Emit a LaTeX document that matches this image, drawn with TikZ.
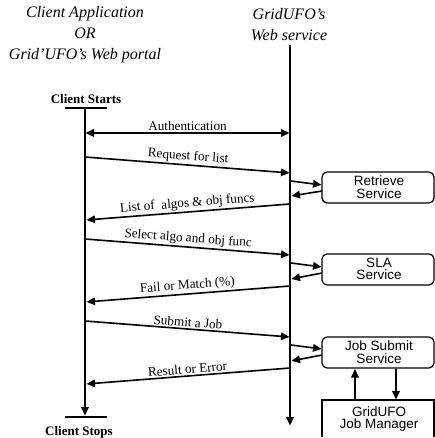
\documentclass[tikz,border=0pt]{standalone}
\usepackage{fontspec}
\setmainfont{Liberation Serif}
\newfontfamily\boxfont{Liberation Sans}
\usetikzlibrary{calc}
\newcommand\myarrow[3][msg]{%
  \draw[#1, shorten >=7pt] (#2) -- (#3);
  \coordinate (tipbase) at ($(#3)!9pt!(#2)$);
  \fill ($(#3)!0.6pt!(#2)$) -- ($(tipbase)!4pt!90:(#3)$) -- ($(tipbase)!4pt!-90:(#3)$) -- cycle;}
\begin{document}
\begin{tikzpicture}[x=1pt,y=1pt,
  msg/.style={line width=1.6pt},
  life/.style={line width=1.8pt},
  lbl/.style={font=\fontsize{13.2}{14}\selectfont, midway, above, sloped, inner sep=2pt},
  title/.style={font=\fontsize{16}{21}\selectfont\itshape, align=center},
  svctext/.style={font=\boxfont\fontsize{13.5}{12.5}\selectfont, align=center, inner sep=0pt},
  boxline/.style={line width=1.2pt, rounded corners=5pt}]
\useasboundingbox (0,0) rectangle (435,-438);
% titles
\node[title] (tc) at (85,-35) {Client Application\\OR\\Grid'UFO's Web portal};
\node[title] (ts) at (289,-25) {GridUFO's\\Web service};
% client lifeline
\node[font=\fontsize{13}{13}\selectfont\bfseries] (cs) at (86,-99) {Client Starts};
\node[font=\fontsize{13}{13}\selectfont\bfseries] (ce) at (79,-432) {Client Stops};
\coordinate (ct) at (85,-108);
\coordinate (cb) at (85,-416);
\draw[line width=1.6pt] (65,-108) -- (107,-108);
\draw[line width=1.6pt] (65,-417) -- (107,-417);
\myarrow[life]{ct}{cb}
% server lifeline
\coordinate (st) at (290,-45);
\coordinate (sb) at (290,-426);
\myarrow[life]{st}{sb}
% service boxes
\draw[boxline] (322,-172) rectangle (434,-203);
\node[svctext] (ret) at (379,-187) {Retrieve\\Service};
\draw[boxline] (322,-254) rectangle (434,-285);
\node[svctext] (sla) at (379,-269) {SLA\\Service};
\draw[boxline] (322,-337) rectangle (434,-368);
\node[svctext] (job) at (379,-352) {Job Submit\\Service};
\draw[line width=1.2pt] (322,-437) -- (322,-400) -- (434,-400) -- (434,-437);
\node[svctext] (jm) at (379,-419) {GridUFO\\Job Manager};
% authentication
\coordinate (a1) at (85,-133); \coordinate (a2) at (290,-133);
\coordinate (am) at (187,-133);
\path (a1) -- node[lbl]{Authentication} (a2);
\myarrow{am}{a1}
\myarrow{am}{a2}
% request for list
\coordinate (r1) at (85,-157); \coordinate (r2) at (290,-173);
\path (r1) -- node[lbl]{Request for list} (r2);
\myarrow{r1}{r2}
\coordinate (r3) at (291,-181); \coordinate (r4) at (291,-196);
\coordinate (r5) at (322,-185); \coordinate (r6) at (322,-191);
\myarrow{r3}{r5}
\myarrow{r6}{r4}
\coordinate (l1) at (290,-204); \coordinate (l2) at (86,-220);
\path (l1) -- node[lbl]{List of~ algos \& obj funcs} (l2);
\myarrow{l1}{l2}
% SLA
\coordinate (s1) at (85,-239); \coordinate (s2) at (290,-255);
\path (s1) -- node[lbl]{Select algo and obj func} (s2);
\myarrow{s1}{s2}
\coordinate (s3) at (291,-263); \coordinate (s4) at (291,-279);
\coordinate (s5) at (322,-267); \coordinate (s6) at (322,-273);
\myarrow{s3}{s5}
\myarrow{s6}{s4}
\coordinate (f1) at (290,-286); \coordinate (f2) at (86,-302);
\path (f1) -- node[lbl]{Fail or Match (\%)} (f2);
\myarrow{f1}{f2}
% Job
\coordinate (j1) at (85,-321); \coordinate (j2) at (290,-337);
\path (j1) -- node[lbl]{Submit a Job} (j2);
\myarrow{j1}{j2}
\coordinate (j3) at (291,-345); \coordinate (j4) at (291,-361);
\coordinate (j5) at (322,-349); \coordinate (j6) at (322,-355);
\myarrow{j3}{j5}
\myarrow{j6}{j4}
\coordinate (e1) at (290,-368); \coordinate (e2) at (86,-384);
\path (e1) -- node[lbl]{Result or Error} (e2);
\myarrow{e1}{e2}
% job manager links
\coordinate (m1) at (355,-400); \coordinate (m2) at (355,-368.5);
\coordinate (m3) at (396,-368.5); \coordinate (m4) at (396,-400);
\myarrow{m1}{m2}
\myarrow{m3}{m4}
\end{tikzpicture}
\end{document}
